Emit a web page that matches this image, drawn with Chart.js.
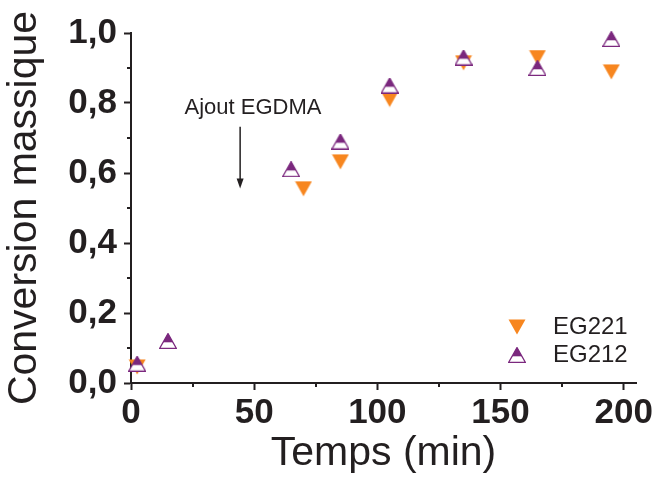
<!DOCTYPE html>
<html>
<head>
<meta charset="utf-8">
<script src="https://cdn.jsdelivr.net/npm/chart.js@4"></script>
<style>
  html, body { margin: 0; padding: 0; background: #fff; }
  #wrap { width: 657px; height: 482px; position: relative; }
</style>
</head>
<body>
<div id="wrap"><canvas id="convChart"></canvas></div>
<script>
// data
const seriesNames = ['EG221', 'EG212'];
const timeEG221 = [2.5, 70, 85, 105, 135, 165, 195];
const convEG221 = [0.046, 0.555, 0.632, 0.81, 0.915, 0.93, 0.889];
const timeEG212 = [2.5, 15, 65, 85, 105, 135, 165, 195];
const convEG212 = [0.055, 0.12, 0.611, 0.69, 0.85, 0.93, 0.90, 0.983];

const xTicks = [0, 50, 100, 150, 200];
const xTickLabels = ['0', '50', '100', '150', '200'];
const xMinor = [25, 75, 125, 175];
const yTicks = [0, 0.2, 0.4, 0.6, 0.8, 1.0];
const yTickLabels = ['0,0', '0,2', '0,4', '0,6', '0,8', '1,0'];
const yMinor = [0.1, 0.3, 0.5, 0.7, 0.9];

const ORANGE = '#f7861f';
const PURPLE = '#7b287e';
const INK = '#231f20';
const FONT = "'Liberation Sans', Arial, sans-serif";

// markers
function downTriangle() {
    const c = document.createElement('canvas');
    c.width = 18; c.height = 16;
    const g = c.getContext('2d');
    g.fillStyle = ORANGE;
    g.beginPath();
    g.moveTo(0.5, 0.5); g.lineTo(17.5, 0.5); g.lineTo(9, 15.5);
    g.closePath();
    g.fill();
    return c;
}

function halfUpTriangle() {
    const c = document.createElement('canvas');
    c.width = 18; c.height = 16;
    const g = c.getContext('2d');
    g.beginPath();
    g.moveTo(9, 0.6); g.lineTo(17.3, 15.3); g.lineTo(0.7, 15.3);
    g.closePath();
    g.fillStyle = '#fff';
    g.fill();
    g.save();
    g.clip();
    g.fillStyle = PURPLE;
    g.fillRect(0, 0, 18, 9.3);
    g.restore();
    g.strokeStyle = PURPLE;
    g.lineWidth = 1.3;
    g.stroke();
    return c;
}

const markEG221 = downTriangle();
const markEG212 = halfUpTriangle();

// minor ticks, arrow + label, legend
const extrasPlugin = {
    id: 'extras',
    afterDraw(chart) {
        const ctx = chart.ctx;
        const xs = chart.scales.x, ys = chart.scales.y;
        const area = chart.chartArea;
        ctx.save();
        ctx.strokeStyle = INK;
        ctx.lineWidth = 2;
        ctx.beginPath();
        xMinor.forEach(v => {
            const px = Math.round(xs.getPixelForValue(v));
            ctx.moveTo(px, area.bottom); ctx.lineTo(px, area.bottom + 4);
        });
        yMinor.forEach(v => {
            const py = Math.round(ys.getPixelForValue(v));
            ctx.moveTo(area.left, py); ctx.lineTo(area.left - 4, py);
        });
        ctx.stroke();

        // Ajout EGDMA arrow
        const ax = xs.getPixelForValue(44.3);
        const aTop = ys.getPixelForValue(0.732);
        const aTip = ys.getPixelForValue(0.556);
        ctx.lineWidth = 1.5;
        ctx.beginPath();
        ctx.moveTo(ax, aTop); ctx.lineTo(ax, aTip - 6);
        ctx.stroke();
        ctx.fillStyle = INK;
        ctx.beginPath();
        ctx.moveTo(ax - 3.5, aTip - 10); ctx.lineTo(ax + 3.5, aTip - 10); ctx.lineTo(ax, aTip);
        ctx.closePath();
        ctx.fill();

        ctx.font = '22px ' + FONT;
        ctx.textAlign = 'center';
        ctx.textBaseline = 'alphabetic';
        ctx.fillText('Ajout EGDMA', xs.getPixelForValue(49.5), ys.getPixelForValue(0.77));

        // legend
        const marks = [markEG221, markEG212];
        ctx.font = '24px ' + FONT;
        ctx.textAlign = 'left';
        seriesNames.forEach((name, i) => {
            const cy = area.top + 294 + i * 28;
            ctx.drawImage(marks[i], 517 - 9, cy - 8);
            ctx.fillText(name, 553, cy + 7);
        });
        ctx.restore();
    }
};

const toPoints = (xs, ys) => xs.map((x, i) => ({ x: x, y: ys[i] }));

new Chart(document.getElementById('convChart'), {
    type: 'scatter',
    data: {
        datasets: [{
            label: seriesNames[0],
            data: toPoints(timeEG221, convEG221),
            pointStyle: markEG221,
            order: 1,
            clip: false
        }, {
            label: seriesNames[1],
            data: toPoints(timeEG212, convEG212),
            pointStyle: markEG212,
            order: 0,
            clip: false
        }]
    },
    options: {
        responsive: true,
        maintainAspectRatio: false,
        animation: false,
        events: [],
        layout: { padding: { left: 0, top: 33, right: 21, bottom: 0 } },
        plugins: {
            legend: { display: false },
            tooltip: { enabled: false }
        },
        scales: {
            x: {
                type: 'linear',
                min: 0,
                max: 205,
                afterBuildTicks: s => { s.ticks = xTicks.map(v => ({ value: v })); },
                afterFit: s => { s.height = 99; },
                border: { display: true, color: INK, width: 2 },
                grid: { drawOnChartArea: false, drawTicks: true, tickLength: 7, tickColor: INK, tickWidth: 2 },
                ticks: {
                    padding: 2,
                    color: INK,
                    font: { family: FONT, size: 35, weight: 'bold' },
                    maxRotation: 0,
                    callback: v => xTickLabels[xTicks.indexOf(v)]
                },
                title: {
                    display: true,
                    text: 'Temps (min)',
                    color: INK,
                    font: { family: FONT, size: 41 },
                    padding: { top: 0, bottom: 4 }
                }
            },
            y: {
                type: 'linear',
                min: 0,
                max: 1,
                afterBuildTicks: s => { s.ticks = yTicks.map(v => ({ value: v })); },
                afterFit: s => { s.width = 131; },
                border: { display: true, color: INK, width: 2 },
                grid: { drawOnChartArea: false, drawTicks: true, tickLength: 7, tickColor: INK, tickWidth: 2 },
                ticks: {
                    padding: 7,
                    color: INK,
                    font: { family: FONT, size: 35, weight: 'bold' },
                    callback: v => yTickLabels[yTicks.findIndex(t => Math.abs(t - v) < 1e-9)]
                },
                title: {
                    display: true,
                    text: 'Conversion massique',
                    color: INK,
                    font: { family: FONT, size: 41 },
                    padding: { top: 0, bottom: 4 }
                }
            }
        }
    },
    plugins: [extrasPlugin]
});
</script>
</body>
</html>
